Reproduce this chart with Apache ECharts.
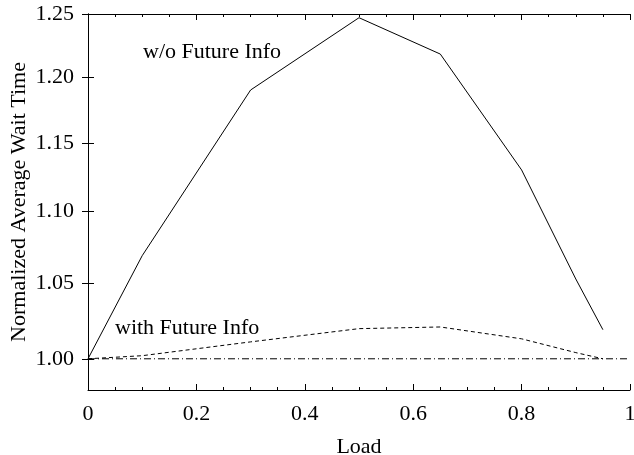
<!DOCTYPE html>
<html>
<head>
<meta charset="utf-8">
<script src="https://cdn.jsdelivr.net/npm/echarts@6/dist/echarts.min.js"></script>
<style>html,body{margin:0;padding:0;background:#fff}#c{width:634px;height:455px}</style>
</head>
<body>
<div id="c"></div>
<script>
var loads = [0, 0.1, 0.3, 0.5, 0.65, 0.8, 0.9, 0.95];
var withoutFuture = [1.000, 1.069, 1.190, 1.247, 1.218, 1.130, 1.053, 1.019];
var withFuture = [1.000, 1.002, 1.011, 1.0197, 1.0208, 1.013, 1.004, 1.000];
var baselineX = [0, 1];
var baselineY = [1.0, 1.0];
var yTicks = [1.00, 1.05, 1.10, 1.15, 1.20, 1.25];
var xTicks = [0, 0.2, 0.4, 0.6, 0.8, 1];

function pairs(xs, ys) { return xs.map(function (x, i) { return [x, ys[i]]; }); }

var font = 'Liberation Serif';
var chart = echarts.init(document.getElementById('c'));
var yCommon = {
  type: 'log', logBase: 10, min: 0.98, max: 1.25,
  axisLine: {show: true, lineStyle: {color: '#000', width: 1}},
  axisTick: {show: true, inside: true, length: 6, customValues: yTicks, lineStyle: {color: '#000'}},
  splitLine: {show: false}
};
chart.setOption({
  animation: false,
  grid: {left: 88, right: 4, top: 14, bottom: 65, containLabel: false, outerBoundsMode: 'none'},
  xAxis: [{
    type: 'value', min: 0, max: 1, interval: 0.2, position: 'bottom',
    name: 'Load', nameLocation: 'middle', nameGap: 46, nameMoveOverlap: false,
    nameTextStyle: {fontFamily: font, fontSize: 22, color: '#000'},
    axisLine: {lineStyle: {color: '#000', width: 1}},
    axisTick: {inside: true, length: 6, lineStyle: {color: '#000'}},
    minorTick: {show: true, splitNumber: 4, length: 3, lineStyle: {color: '#000'}},
    axisLabel: {fontFamily: font, fontSize: 22, color: '#000', margin: 13,
      customValues: xTicks,
      formatter: function (v) { return String(Math.round(v * 10) / 10); }},
    splitLine: {show: false}
  }, {
    type: 'value', min: 0, max: 1, interval: 0.2, position: 'top',
    axisLine: {lineStyle: {color: '#000', width: 1}},
    axisTick: {inside: true, length: 6, lineStyle: {color: '#000'}},
    minorTick: {show: true, splitNumber: 4, length: 3, lineStyle: {color: '#000'}},
    axisLabel: {show: false}, splitLine: {show: false}
  }],
  yAxis: [Object.assign({}, yCommon, {
    position: 'left',
    name: 'Normalized Average Wait Time', nameLocation: 'middle', nameGap: 58, nameMoveOverlap: false,
    nameTextStyle: {fontFamily: font, fontSize: 22, color: '#000'},
    axisLabel: {fontFamily: font, fontSize: 22, color: '#000', margin: 14, customValues: yTicks,
      formatter: function (v) { return Number(v).toFixed(2); }}
  }), Object.assign({}, yCommon, {
    position: 'right', axisLabel: {show: false}
  })],
  series: [{
    type: 'line', data: pairs(loads, withoutFuture), symbol: 'none',
    lineStyle: {color: '#000', width: 1}
  }, {
    type: 'line', data: pairs(loads, withFuture), symbol: 'none',
    lineStyle: {color: '#000', width: 1, type: [4, 3]}
  }, {
    type: 'line', data: pairs(baselineX, baselineY), symbol: 'none',
    lineStyle: {color: '#000', width: 1, type: [7, 3, 1, 3]}
  }],
  graphic: [{
    type: 'text', left: 143, top: 41,
    style: {text: 'w/o Future Info', fontFamily: font, fontSize: 22, fill: '#000'}
  }, {
    type: 'text', left: 115, top: 317,
    style: {text: 'with Future Info', fontFamily: font, fontSize: 22, fill: '#000'}
  }]
});
</script>
</body>
</html>
